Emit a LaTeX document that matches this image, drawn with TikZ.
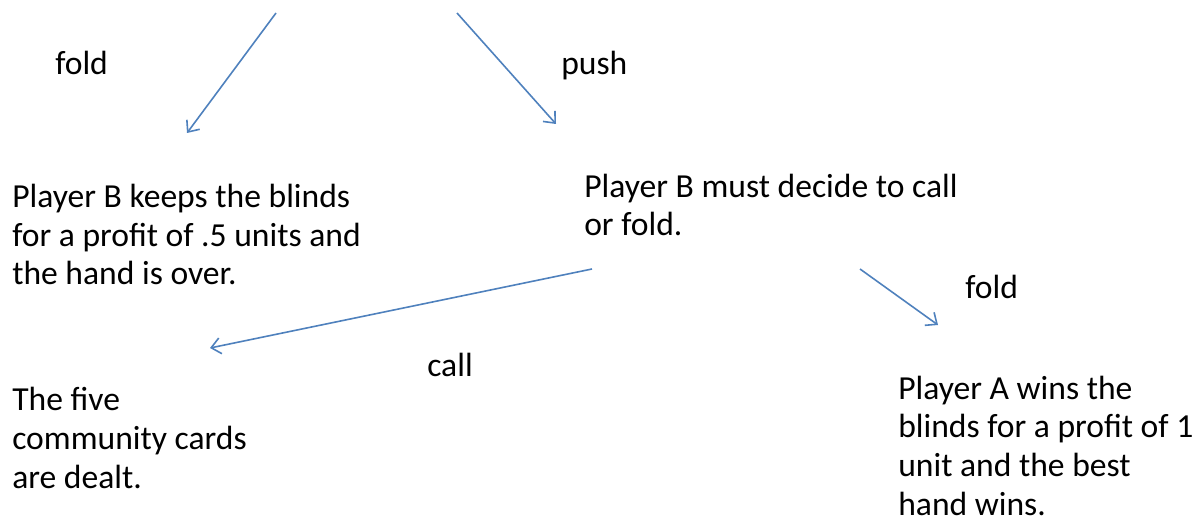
\documentclass[tikz,border=0pt]{standalone}
\usepackage{fontspec}
\setmainfont{Carlito}
\usetikzlibrary{arrows.meta}

\definecolor{arrowblue}{RGB}{79,129,189}

\tikzset{
  choice/.style={draw=arrowblue, line width=1.2pt, -{Straight Barb[length=7pt,width=12pt,line width=1.2pt]}},
  label/.style={anchor=base west, inner sep=0pt, font=\fontsize{25.2}{29}\selectfont},
  outcome/.style={anchor=base west, inner sep=0pt, align=left, font=\fontsize{25.2}{29}\selectfont}
}

\begin{document}
\begin{tikzpicture}[x=0.75pt,y=0.75pt,yscale=-1,xscale=1]
\useasboundingbox (0,0) rectangle (1196,520);

% Arrow end points
\coordinate (foldAs) at (276,13);
\coordinate (foldAe) at (187,133);
\coordinate (pushs) at (457,13);
\coordinate (pushe) at (556,124);
\coordinate (calls) at (592,269);
\coordinate (calle) at (210,348);
\coordinate (foldBs) at (860,269);
\coordinate (foldBe) at (938,325);

% Arrows
\draw [choice] (foldAs) -- (foldAe);
\draw [choice] (pushs) -- (pushe);
\draw [choice] (calls) -- (calle);
\draw [choice] (foldBs) -- (foldBe);

% Action labels
\node [label] (foldA) at (55,75) {fold};
\node [label] (push) at (561,75) {push};
\node [label] (foldB) at (965,299) {fold};
\node [label] (call) at (427,377) {call};

% Outcome texts (anchored at the last line)
\node [outcome] (keeps) at (12,285) {Player B keeps the blinds\\for a profit of .5 units and\\the hand is over.};
\node [outcome] (decide) at (584,236) {Player B must decide to call\\or fold.};
\node [outcome] (dealt) at (12,488) {The five\\community cards\\are dealt.};
\node [outcome] (wins) at (898,515) {Player A wins the\\blinds for a profit of 1\\unit and the best\\hand wins.};

\end{tikzpicture}
\end{document}
